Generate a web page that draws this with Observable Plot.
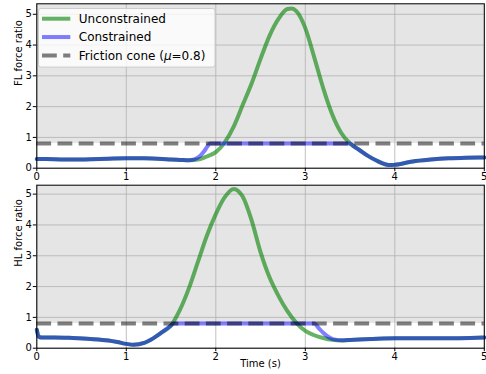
<!DOCTYPE html>
<html><head><meta charset="utf-8">
<script src="https://cdn.jsdelivr.net/npm/d3@7"></script>
<script src="https://cdn.jsdelivr.net/npm/@observablehq/plot@0.6"></script>
<style>
body{margin:0;background:#fff;}
#fig{position:relative;width:486px;height:374px;overflow:hidden;background:#fff;font-family:"DejaVu Sans",sans-serif;}
#fig .panel{position:absolute;left:0;}
#fig svg{overflow:visible;}
</style></head><body><div id="fig"></div>
<script>
// ---- data ----
const mu = 0.8;
const xTicks = [0, 1, 2, 3, 4, 5];
const yTicks = [0, 1, 2, 3, 4, 5];
const legendLabels = ["Unconstrained", "Constrained", "Friction cone"];
const panelLabels = ["FL force ratio", "HL force ratio"];
const xLabel = "Time (s)";

// FL (front leg)
const timeFLu = [0,0.2,0.4,0.6,0.8,1.0,1.2,1.4,1.5,1.6,1.7,1.8,1.9,2.0,2.1,2.2,2.3,2.4,2.5,2.6,2.7,2.8,2.85,2.9,3.0,3.1,3.2,3.3,3.4,3.5,3.6,3.7,3.8,3.9,3.95,4.0,4.2,4.4,4.6,4.8,5.0];
const flUnconstrained = [0.30,0.29,0.28,0.29,0.31,0.32,0.32,0.30,0.28,0.27,0.26,0.28,0.38,0.52,0.84,1.35,2.05,2.75,3.55,4.3,4.85,5.17,5.19,5.1,4.55,3.6,2.6,1.75,1.15,0.8,0.6,0.4,0.24,0.12,0.1,0.11,0.22,0.28,0.32,0.34,0.35];
const timeFLc = [0,0.2,0.4,0.6,0.8,1.0,1.2,1.4,1.5,1.6,1.7,1.76,1.82,1.87,1.91,1.94,2.5,3.0,3.5,3.55,3.6,3.7,3.8,3.9,3.95,4.0,4.2,4.4,4.6,4.8,5.0];
const flConstrained = [0.30,0.29,0.28,0.29,0.31,0.32,0.32,0.30,0.28,0.27,0.26,0.29,0.39,0.55,0.72,0.8,0.8,0.8,0.8,0.69,0.6,0.4,0.24,0.12,0.1,0.11,0.22,0.28,0.32,0.34,0.35];

// HL (hind leg)
const timeHLu = [0,0.02,0.05,0.2,0.4,0.6,0.8,0.9,1.0,1.08,1.2,1.3,1.4,1.5,1.6,1.7,1.8,1.9,2.0,2.1,2.2,2.3,2.4,2.5,2.6,2.7,2.8,2.9,3.0,3.1,3.2,3.3,3.4,3.5,3.75,4.0,4.5,5.0];
const hlUnconstrained = [0.6,0.38,0.35,0.35,0.33,0.3,0.25,0.2,0.14,0.11,0.17,0.32,0.52,0.74,1.25,1.95,2.8,3.65,4.35,4.9,5.17,4.92,4.15,3.12,2.3,1.7,1.2,0.82,0.56,0.42,0.33,0.27,0.25,0.27,0.3,0.32,0.32,0.35];
const timeHLc = [0,0.02,0.05,0.2,0.4,0.6,0.8,0.9,1.0,1.08,1.2,1.3,1.4,1.5,1.53,2.0,2.5,3.1,3.15,3.2,3.25,3.3,3.35,3.4,3.5,3.75,4.0,4.5,5.0];
const hlConstrained = [0.6,0.38,0.35,0.35,0.33,0.3,0.25,0.2,0.14,0.11,0.17,0.32,0.52,0.74,0.8,0.8,0.8,0.8,0.65,0.5,0.38,0.3,0.27,0.26,0.27,0.3,0.32,0.32,0.35];

// ---- styles ----
const FONT = "DejaVu Sans";
const greenC = "#008000", greenOp = 0.6;
const blueC = "#0000ff", blueOp = 0.5;
const coneC = "#000000", coneOp = 0.5;
const dash = "14.8,6.4";
const LW = 4;

function panel({tu, vu, tc, vc, label, height, marginTop, marginBottom, yMax, showXLabel}) {
  const du = tu.map((t, i) => ({t, v: vu[i]}));
  const dc = tc.map((t, i) => ({t, v: vc[i]}));
  const shade = [{x1: 0, x2: 5, y1: mu, y2: yMax}];
  return Plot.plot({
    width: 486, height,
    marginLeft: 36.3, marginRight: 2.2, marginTop, marginBottom,
    x: {domain: [0, 5], ticks: xTicks},
    y: {domain: [0, yMax], ticks: yTicks},
    style: {fontFamily: FONT, fontSize: "10px", color: "black", background: "transparent"},
    marks: [
      Plot.rect(shade, {x1: "x1", x2: "x2", y1: "y1", y2: "y2", fill: "#e5e5e5"}),
      Plot.gridX(xTicks, {stroke: "#b0b0b0", strokeOpacity: 1, strokeWidth: 0.8}),
      Plot.gridY(yTicks, {stroke: "#b0b0b0", strokeOpacity: 1, strokeWidth: 0.8}),
      Plot.line(du, {x: "t", y: "v", stroke: greenC, strokeOpacity: greenOp, strokeWidth: LW, curve: "monotone-x"}),
      Plot.line(dc, {x: "t", y: "v", stroke: blueC, strokeOpacity: blueOp, strokeWidth: LW, curve: "monotone-x"}),
      Plot.ruleY([mu], {stroke: coneC, strokeOpacity: coneOp, strokeWidth: LW, strokeDasharray: dash}),
      Plot.frame({stroke: "black", strokeWidth: 1}),
      Plot.axisX(xTicks, {tickSize: 3.5, tickPadding: 1.5, label: null}),
      Plot.axisY(yTicks, {tickSize: 3.5, tickPadding: 1.5, label: null}),
      Plot.text([label], {frameAnchor: "left", dx: -18, rotate: -90, text: d => d, fontSize: 10, fill: "black"}),
      showXLabel ? Plot.text([xLabel], {frameAnchor: "bottom", dy: 18.5, text: d => d, fontSize: 10, fill: "black"}) : null
    ]
  });
}

const fig = document.getElementById("fig");

const top1 = panel({tu: timeFLu, vu: flUnconstrained, tc: timeFLc, vc: flConstrained,
  label: panelLabels[0], height: 182, marginTop: 3.3, marginBottom: 14.3, yMax: 5.34, showXLabel: false});
const w1 = document.createElement("div"); w1.className = "panel"; w1.style.top = "0px"; w1.appendChild(top1); fig.appendChild(w1);

const bot = panel({tu: timeHLu, vu: hlUnconstrained, tc: timeHLc, vc: hlConstrained,
  label: panelLabels[1], height: 193, marginTop: 3.7, marginBottom: 26.3, yMax: 5.29, showXLabel: true});
const w2 = document.createElement("div"); w2.className = "panel"; w2.style.top = "181px"; w2.appendChild(bot); fig.appendChild(w2);

// ---- legend (upper-left of top panel) ----
const ns = "http://www.w3.org/2000/svg";
const lg = document.createElementNS(ns, "svg");
lg.setAttribute("width", 180); lg.setAttribute("height", 62);
lg.style.position = "absolute"; lg.style.left = "37.5px"; lg.style.top = "7.6px";
const box = document.createElementNS(ns, "rect");
Object.entries({x: 0.5, y: 0.5, width: 176.5, height: 58.6, rx: 2.5, fill: "white", "fill-opacity": 0.8, stroke: "#cccccc", "stroke-width": 1})
  .forEach(([k, v]) => box.setAttribute(k, v));
lg.appendChild(box);
const entries = [
  {stroke: greenC, op: greenOp, dash: null},
  {stroke: blueC, op: blueOp, dash: null},
  {stroke: coneC, op: coneOp, dash: dash}
];
entries.forEach((e, i) => {
  const y = 10.7 + i * 18.35;
  const ln = document.createElementNS(ns, "line");
  Object.entries({x1: 4, x2: 32.3, y1: y, y2: y, stroke: e.stroke, "stroke-opacity": e.op, "stroke-width": LW})
    .forEach(([k, v]) => ln.setAttribute(k, v));
  if (e.dash) ln.setAttribute("stroke-dasharray", e.dash);
  lg.appendChild(ln);
  const tx = document.createElementNS(ns, "text");
  tx.setAttribute("x", 40.8); tx.setAttribute("y", y + 4.3);
  tx.setAttribute("font-family", FONT); tx.setAttribute("font-size", 12); tx.setAttribute("fill", "black");
  if (i === 2) {
    tx.textContent = legendLabels[i] + " (";
    const m = document.createElementNS(ns, "tspan"); m.setAttribute("font-style", "italic"); m.textContent = "\u03bc";
    tx.appendChild(m);
    const r = document.createElementNS(ns, "tspan"); r.textContent = "=" + mu + ")";
    tx.appendChild(r);
  } else {
    tx.textContent = legendLabels[i];
  }
  lg.appendChild(tx);
});
fig.appendChild(lg);
</script></body></html>
